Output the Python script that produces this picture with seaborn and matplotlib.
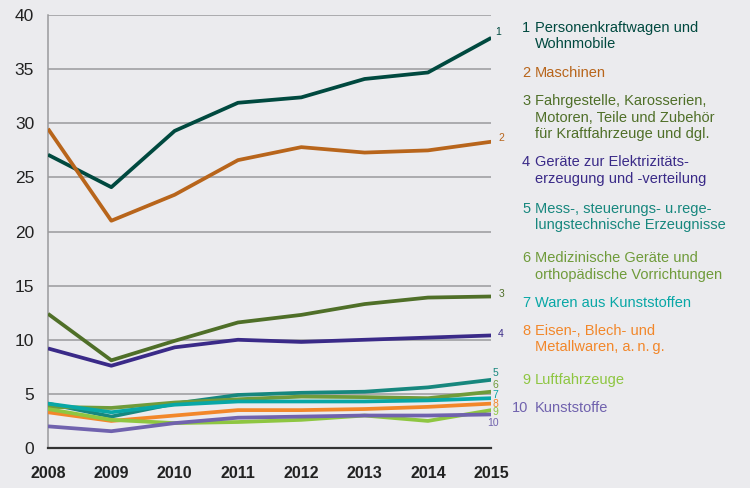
import numpy as np
import pandas as pd
import matplotlib
matplotlib.use("Agg")
import matplotlib.pyplot as plt
import seaborn as sb

jahre = [2008, 2009, 2010, 2011, 2012, 2013, 2014, 2015]

pkw = [27.1, 24.1, 29.3, 31.9, 32.4, 34.1, 34.7, 37.9]
maschinen = [29.5, 21.0, 23.4, 26.6, 27.8, 27.3, 27.5, 28.3]
fahrgestelle = [12.4, 8.1, 9.9, 11.6, 12.3, 13.3, 13.9, 14.0]
elektro = [9.2, 7.6, 9.3, 10.0, 9.8, 10.0, 10.2, 10.4]
mess = [4.1, 2.9, 4.1, 4.9, 5.1, 5.2, 5.6, 6.3]
medizin = [3.8, 3.7, 4.2, 4.5, 4.75, 4.7, 4.6, 5.2]
waren = [4.1, 3.3, 4.0, 4.3, 4.3, 4.3, 4.4, 4.6]
eisen = [3.3, 2.5, 3.0, 3.5, 3.5, 3.6, 3.8, 4.1]
luft = [3.6, 2.6, 2.3, 2.4, 2.6, 3.0, 2.5, 3.5]
kunststoffe = [2.0, 1.55, 2.3, 2.8, 2.9, 3.0, 3.0, 3.1]

reihen = [pkw, maschinen, fahrgestelle, elektro, mess, medizin, waren, eisen, luft, kunststoffe]

legende = [
    ["Personenkraftwagen und", "Wohnmobile"],
    ["Maschinen"],
    ["Fahrgestelle, Karosserien,", "Motoren, Teile und Zubehör", "für Kraftfahrzeuge und dgl."],
    ["Geräte zur Elektrizitäts-", "erzeugung und -verteilung"],
    ["Mess-, steuerungs- u.rege-", "lungstechnische Erzeugnisse"],
    ["Medizinische Geräte und", "orthopädische Vorrichtungen"],
    ["Waren aus Kunststoffen"],
    ["Eisen-, Blech- und", "Metallwaren, a.\u2009n.\u2009g."],
    ["Luftfahrzeuge"],
    ["Kunststoffe"],
]

farben = ["#00493f", "#b8651b", "#4f6f28", "#3a2a88", "#17877e",
          "#6f9b3a", "#08a7a6", "#f2872a", "#8ec641", "#7062ae"]

# Positionen der Endbeschriftungen (Datenwerte)
label_y = [38.4, 28.6, 14.2, 10.5, 6.9, 5.85, 4.9, 4.1, 3.3, 2.3]
label_dx = [3, 5, 5, 5, 1, 1, 1, 1, 1, -3]

sb.set_style("white")
plt.rcParams["font.family"] = ["Liberation Sans", "DejaVu Sans"]
bg = "#ebebee"

rows = []
for i, r in enumerate(reihen):
    for j, v in zip(jahre, r):
        rows.append({"Jahr": j, "Wert": v, "Reihe": str(i + 1)})
df = pd.DataFrame(rows)

fig = plt.figure(figsize=(7.5, 4.88), dpi=100, facecolor=bg)
ax = fig.add_axes([0.064, 0.082, 0.591, 0.887])
ax.set_facecolor(bg)

for y in range(5, 45, 5):
    ax.axhline(y, color="#9a9a9c", lw=1.1, zorder=1)

sb.lineplot(data=df, x="Jahr", y="Wert", hue="Reihe", palette=farben,
            linewidth=2.7, legend=False, ax=ax, zorder=3)
for l in ax.lines:
    l.set_solid_capstyle("butt")

ax.set_xlim(2008, 2015)
ax.set_ylim(0, 40)
ax.set_xticks(jahre)
ax.set_yticks(range(0, 45, 5))
ax.set_xlabel("")
ax.set_ylabel("")

for s in ["top", "right"]:
    ax.spines[s].set_visible(False)
ax.spines["left"].set_color("#9a9a9c")
ax.spines["left"].set_linewidth(1.1)
ax.spines["bottom"].set_color("#333333")
ax.spines["bottom"].set_linewidth(1.6)
ax.tick_params(axis="y", length=6, width=1.1, color="#9a9a9c", labelsize=12.5,
               labelcolor="#222222", pad=4)
ax.tick_params(axis="x", length=7, width=1.5, color="#333333", labelsize=11.5,
               labelcolor="#222222", pad=6)
for t in ax.get_xticklabels():
    t.set_fontweight("bold")

for i in range(10):
    ax.annotate(str(i + 1), xy=(2015, label_y[i]), xytext=(label_dx[i], 0),
                textcoords="offset points", color=farben[i], fontsize=7.5,
                va="center", ha="left", annotation_clip=False)

# Legende rechts
start = [28, 73, 101, 162, 209, 258, 303, 331, 380, 408]
zeile = 16.5
for i, zeilen in enumerate(legende):
    ypix = start[i]
    nx = 522 if i < 9 else 512
    fig.text(nx / 750, 1 - ypix / 488, str(i + 1), color=farben[i], fontsize=10.5,
             va="center", ha="left")
    for k, z in enumerate(zeilen):
        fig.text(535 / 750, 1 - (ypix + k * zeile) / 488, z, color=farben[i],
                 fontsize=10.5, va="center", ha="left")

fig.savefig("out.png", dpi=100, facecolor=bg)
